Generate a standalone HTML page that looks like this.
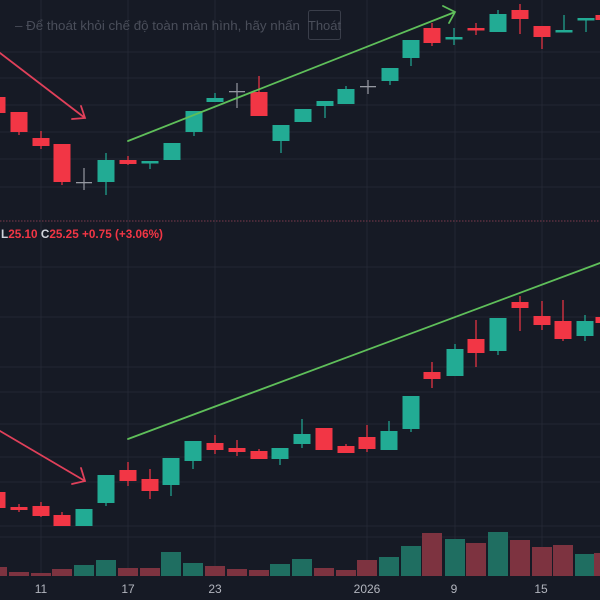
<!DOCTYPE html>
<html><head><meta charset="utf-8"><style>
html,body{margin:0;padding:0;background:#161a25;}
svg{display:block;font-family:"Liberation Sans","Noto Sans CJK SC",sans-serif;}
</style></head><body>
<svg width="600" height="600" viewBox="0 0 600 600" xmlns="http://www.w3.org/2000/svg">
<rect width="600" height="600" fill="#161a25"/>
<g stroke="#232733" stroke-width="1">
<line x1="41" y1="0" x2="41" y2="576"/><line x1="128" y1="0" x2="128" y2="576"/><line x1="215" y1="0" x2="215" y2="576"/>
<line x1="367" y1="0" x2="367" y2="576"/><line x1="455" y1="0" x2="455" y2="576"/><line x1="542" y1="0" x2="542" y2="576"/>
<line x1="0" y1="52" x2="600" y2="52"/><line x1="0" y1="78" x2="600" y2="78"/><line x1="0" y1="105" x2="600" y2="105"/>
<line x1="0" y1="132" x2="600" y2="132"/><line x1="0" y1="159" x2="600" y2="159"/><line x1="0" y1="187" x2="600" y2="187"/>
<line x1="0" y1="267" x2="600" y2="267"/><line x1="0" y1="317" x2="600" y2="317"/><line x1="0" y1="367" x2="600" y2="367"/>
<line x1="0" y1="392" x2="600" y2="392"/><line x1="0" y1="424" x2="600" y2="424"/><line x1="0" y1="457" x2="600" y2="457"/>
<line x1="0" y1="482" x2="600" y2="482"/><line x1="0" y1="526" x2="600" y2="526"/><line x1="0" y1="537" x2="600" y2="537"/>
</g>
<line x1="0" y1="221" x2="600" y2="221" stroke="#5a3040" stroke-width="1.5" stroke-dasharray="1.5 1.5"/>
<text x="15" y="30" font-size="13" fill="#4a4e5a" textLength="285" lengthAdjust="spacingAndGlyphs">– Để thoát khỏi chế độ toàn màn hình, hãy nhấn</text>
<rect x="308.5" y="10.5" width="32" height="29" fill="none" stroke="#3a3e4a" rx="2"/>
<text x="324.5" y="30" font-size="13" fill="#4a4e5a" text-anchor="middle">Thoát</text>
<text x="1" y="238" font-size="12" font-weight="bold" fill="#d1d4dc" textLength="162" lengthAdjust="spacingAndGlyphs">L<tspan fill="#f23645">25.10</tspan> <tspan fill="#d1d4dc">C</tspan><tspan fill="#f23645">25.25</tspan> <tspan fill="#f23645"> +0.75 (+3.06%)</tspan></text>
<g id="top"></g>
<g id="bot"></g>
<g id="vol"></g>
<g stroke-width="1.8" fill="none" stroke-linecap="round">
<path d="M0 53 L85 118 M72 119 L85 118 L81 106" stroke="#e0405a"/>
<path d="M128 141 L455 12 M443 6 L455 12 L449 23" stroke="#5fbf5a"/>
<path d="M0 431 L85 481 M72 484 L85 481 L81 468" stroke="#e0405a"/>
<path d="M128 439 L600 263" stroke="#5fbf5a"/>
</g>
<g font-size="12" fill="#b2b5be" text-anchor="middle">
<text x="41" y="593">11</text><text x="128" y="593">17</text><text x="215" y="593">23</text>
<text x="367" y="593">2026</text><text x="454" y="593">9</text><text x="541" y="593">15</text>
</g>
<script>
const NS="http://www.w3.org/2000/svg";
const col={g:"#22ab94",r:"#f23645",n:"#9598a1"};
function draw(id,data){const g=document.getElementById(id);
for(const [cx,bt,bb,wt,wb,c] of data){
const l=document.createElementNS(NS,"line");l.setAttribute("x1",cx);l.setAttribute("x2",cx);l.setAttribute("y1",wt);l.setAttribute("y2",wb);l.setAttribute("stroke",col[c]);l.setAttribute("stroke-width","1.2");g.appendChild(l);
const r=document.createElementNS(NS,"rect");
if(c==="n"){r.setAttribute("x",cx-8);r.setAttribute("width",16);r.setAttribute("y",bt);r.setAttribute("height",1.3);}
else{r.setAttribute("x",cx-8.5);r.setAttribute("width",17);r.setAttribute("y",bt);r.setAttribute("height",Math.max(2.5,bb-bt));}
r.setAttribute("fill",col[c]);g.appendChild(r);}}
draw("top",[[-3,97,113,95,115,"r"],[19,112,132,112,135,"r"],[41,138,146,131,149,"r"],[62,144,182,144,185,"r"],[84,182,183,168,190,"n"],[106,160,182,153,195,"g"],[128,160,164,156,165,"r"],[150,161,162,161,169,"g"],[172,143,160,143,160,"g"],[194,111,132,111,136,"g"],[215,98,102,93,102,"g"],[237,91,92,83,108,"n"],[259,92,116,76,116,"r"],[281,125,141,125,153,"g"],[303,109,122,109,122,"g"],[325,101,106,101,118,"g"],[346,89,104,86,104,"g"],[368,86,87,80,94,"n"],[390,68,81,68,85,"g"],[411,40,58,40,66,"g"],[432,28,43,23,46,"r"],[454,37,38,28,45,"g"],[476,28,30,23,35,"r"],[498,14,32,10,32,"g"],[520,10,19,4,34,"r"],[542,26,37,26,49,"r"],[564,30,31,15,31,"g"],[586,18,19,18,32,"g"],[604,15,20,10,25,"r"]]);
draw("bot",[[-3,492,508,490,510,"r"],[19,507,510,504,512,"r"],[41,506,516,502,517,"r"],[62,515,526,512,526,"r"],[84,509,526,509,526,"g"],[106,475,503,475,506,"g"],[128,470,481,462,486,"r"],[150,479,491,469,499,"r"],[171,458,485,458,496,"g"],[193,441,461,441,469,"g"],[215,443,450,435,454,"r"],[237,448,452,440,456,"r"],[259,451,459,449,459,"r"],[280,448,459,448,465,"g"],[302,434,444,419,448,"g"],[324,428,450,428,450,"r"],[346,446,453,444,453,"r"],[367,437,449,425,452,"r"],[389,431,450,421,450,"g"],[411,396,429,396,432,"g"],[432,372,379,362,388,"r"],[455,349,376,344,376,"g"],[476,339,353,320,367,"r"],[498,318,351,318,355,"g"],[520,302,308,296,331,"r"],[542,316,325,301,330,"r"],[563,321,339,300,341,"r"],[585,321,336,315,341,"g"],[604,317,323,312,328,"r"]]);
const vol=[[-3,567,"r"],[19,572,"r"],[41,573,"r"],[62,569,"r"],[84,565,"g"],[106,560,"g"],[128,568,"r"],[150,568,"r"],[171,552,"g"],[193,563,"g"],[215,566,"r"],[237,569,"r"],[259,570,"r"],[280,564,"g"],[302,559,"g"],[324,568,"r"],[346,570,"r"],[367,560,"r"],[389,557,"g"],[411,546,"g"],[432,533,"r"],[455,539,"g"],[476,543,"r"],[498,532,"g"],[520,540,"r"],[542,547,"r"],[563,545,"r"],[585,554,"g"],[604,553,"r"]];
const vg=document.getElementById("vol");
for(const [cx,t,c] of vol){const r=document.createElementNS(NS,"rect");r.setAttribute("x",cx-10);r.setAttribute("width",20);r.setAttribute("y",t);r.setAttribute("height",576-t);r.setAttribute("fill",c==="g"?"#1f6e61":"#7d3340");vg.appendChild(r);}
</script>
</svg>
</body></html>
